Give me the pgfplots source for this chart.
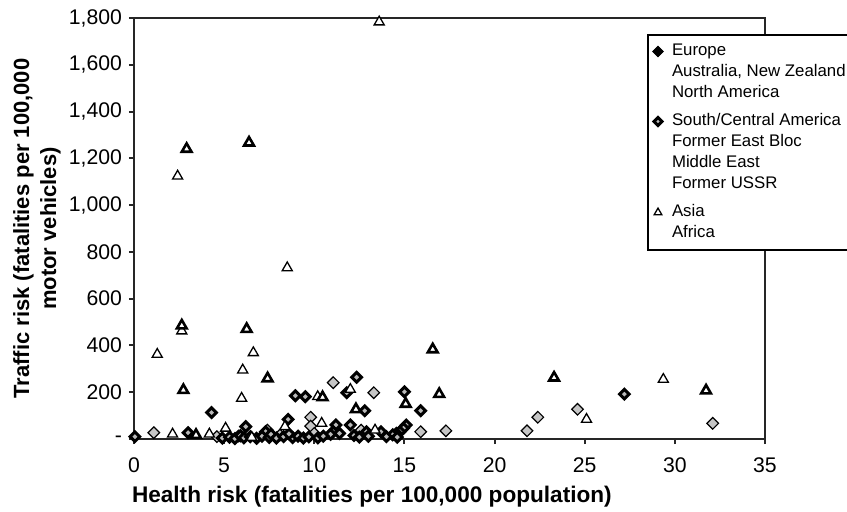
\documentclass[border=0pt]{standalone}
\usepackage{fontspec}
\setmainfont{Liberation Sans}
\usepackage{pgfplots}
\pgfplotsset{compat=1.18}

% marker styles
\pgfplotsset{
  lightdiamond/.style={only marks, mark=square*, mark size=2.05pt,
    mark options={rotate=45, fill=gray!45, draw=black, line width=0.6pt}},
  darkdiamond/.style={only marks, mark=square*, mark size=1.7pt,
    mark options={rotate=45, fill=gray!55, draw=black, line width=1.5pt}},
  thintri/.style={only marks, mark=triangle*, mark size=2.9pt,
    mark options={fill=white, draw=black, line width=0.65pt}},
  thicktri/.style={only marks, mark=triangle*, mark size=2.8pt,
    mark options={fill=white, draw=black, line width=1.3pt}},
}

\begin{document}
\begin{tikzpicture}
\useasboundingbox (-67pt,-36pt) rectangle (356.5pt,219.5pt);
\clip (-67pt,-36pt) rectangle (356.5pt,219.5pt);
\begin{axis}[
  at={(0pt,0pt)}, anchor=south west,
  scale only axis, width=315.5pt, height=210.5pt,
  xmin=0, xmax=35, ymin=0, ymax=1800,
  clip=false,
  axis line style={line width=1pt, black!85},
  xtick={0,5,...,35}, xticklabels={0,5,10,15,20,25,30,35},
  ytick={0,200,...,1800},
  yticklabels={-,200,400,600,800,{1,000},{1,200},{1,400},{1,600},{1,800}},
  tick align=outside, tick pos=left, major tick length=2.5pt,
  tick style={line width=1pt, black!85},
  ticklabel style={font=\fontsize{10.6}{12}\selectfont},
  xticklabel style={yshift=-3.5pt},
  every axis x label/.style={at={(axis description cs:0.377,-0.136)}, anchor=center,
    font=\fontsize{11.3}{14}\selectfont\bfseries},
  every axis y label/.style={at={(axis description cs:-0.154,0.5)}, anchor=center,
    rotate=90, align=center, font=\fontsize{11}{13.5}\selectfont\bfseries},
  xlabel={Health risk (fatalities per 100,000 population)},
  ylabel={Traffic risk (fatalities per 100,000\\motor vehicles)},
  legend cell align=left,
  legend image code/.code={\path (0pt,0pt) (8.5pt,0pt); \draw[#1] plot coordinates {(4.5pt,0pt)};},
  legend style={at={(rel axis cs:0.813,0.962)}, anchor=north west,
    draw=black, line width=1pt, fill=white,
    font=\fontsize{8.4}{10}\selectfont,
    inner xsep=0pt, inner ysep=3pt, row sep=0pt, column sep=0pt,
    nodes={text height=6.2pt, text depth=1.8pt, inner ysep=1.25pt, inner xsep=2.5pt}},
]

% legend
\addlegendimage{only marks, mark=square*, mark size=1.9pt, mark options={rotate=45, fill=black, draw=black, line width=0.4pt}}
\addlegendentry{Europe}
\addlegendimage{empty legend}\addlegendentry{Australia, New Zealand}
\addlegendimage{empty legend}\addlegendentry{North America}
\addlegendimage{empty legend}\addlegendentry[text height=0pt, text depth=0pt, inner ysep=1.75pt]{}
\addlegendimage{darkdiamond, mark size=1.45pt}
\addlegendentry{South/Central America}
\addlegendimage{empty legend}\addlegendentry{Former East Bloc}
\addlegendimage{empty legend}\addlegendentry{Middle East}
\addlegendimage{empty legend}\addlegendentry{Former USSR}
\addlegendimage{empty legend}\addlegendentry[text height=0pt, text depth=0pt, inner ysep=1.75pt]{}
\addlegendimage{thintri, mark size=2.2pt}
\addlegendentry{Asia}
\addlegendimage{empty legend}\addlegendentry{Africa}

% light diamonds
\addplot[lightdiamond, forget plot] coordinates {
  (1.1,27) (4.6,10) (5.8,13) (7.4,38) (8.1,17) (9.8,93) (9.8,55) (10.0,24)
  (11.05,241) (13.3,198) (12.6,38) (15.9,31) (17.3,35) (21.8,35) (22.4,93)
  (24.6,127) (32.1,67)
};

% dark diamonds
\addplot[darkdiamond, forget plot] coordinates {
  (0.05,10) (3.0,27) (4.3,113) (6.2,53) (7.3,31) (8.55,84) (8.95,185) (9.5,181)
  (11.8,198) (12.35,264) (12.8,121) (15.0,202) (15.9,121) (15.1,60) (14.95,46)
  (14.75,31) (14.55,24) (14.35,18) (11.2,60) (12.0,60) (11.05,31) (11.4,24)
  (12.9,31) (13.7,31) (27.2,192) (10.9,20) (4.9,4) (5.3,8) (5.6,2) (5.9,14)
  (6.1,5) (6.45,10) (6.8,3) (7.1,12) (7.5,7) (7.6,20) (7.9,4) (8.3,10) (8.8,6)
  (9.1,12) (9.4,4) (9.7,9) (10.2,5) (10.5,12) (8.6,22) (12.2,15) (12.5,8)
  (13.0,12) (14.0,10) (14.6,8)
};

% open triangles
\addplot[thintri, forget plot] coordinates {
  (13.6,1783) (2.42,1124) (8.5,732) (1.29,362) (6.62,369) (6.03,295) (5.97,174)
  (2.14,21) (4.18,21) (5.08,46) (6.53,7) (10.19,181) (10.41,67) (8.37,53)
  (13.37,38) (12.0,212) (29.36,255) (25.1,84) (2.65,462)
};

% heavy triangles
\addplot[thicktri, forget plot] coordinates {
  (2.92,1240) (6.38,1267) (2.65,485) (6.25,470) (7.41,259) (2.74,209) (3.44,17)
  (10.46,178) (12.31,127) (15.07,150) (16.57,383) (16.93,192) (23.3,262)
  (31.73,207)
};

\end{axis}
\end{tikzpicture}
\end{document}
